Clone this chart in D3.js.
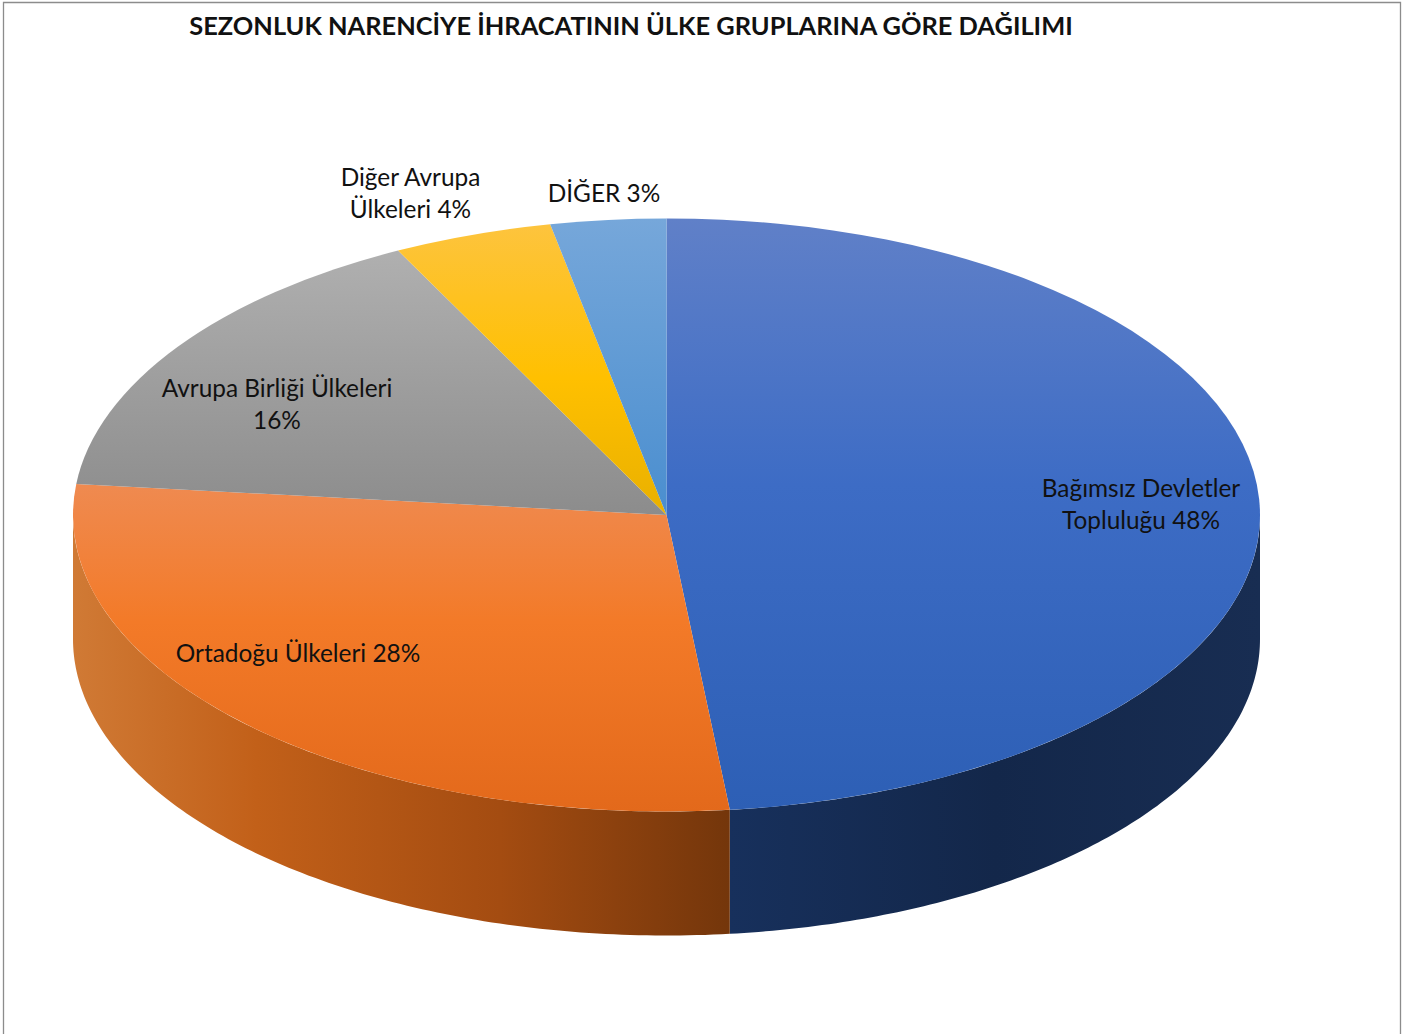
<!DOCTYPE html>
<html><head><meta charset="utf-8">
<script src="https://d3js.org/d3.v7.min.js"></script>
<style>html,body{margin:0;background:#fff}svg{display:block}text{font-family:Lato,"Open Sans",sans-serif;fill:#111}</style>
</head><body><div id="c"></div>
<script>
const titleText = "SEZONLUK NARENCİYE İHRACATININ ÜLKE GRUPLARINA GÖRE DAĞILIMI";
const categories = ["Bağımsız Devletler Topluluğu","Ortadoğu Ülkeleri","Avrupa Birliği Ülkeleri","Diğer Avrupa Ülkeleri","DİĞER"];
const shares = [48.3,28.37,15.86,4.33,3.14];
const shownPercent = [48,28,16,4,3];
const labelLines = [
  ["Bağımsız Devletler","Topluluğu 48%"],
  ["Ortadoğu Ülkeleri 28%"],
  ["Avrupa Birliği Ülkeleri","16%"],
  ["Diğer Avrupa","Ülkeleri 4%"],
  ["DİĞER 3%"]
];
// layout (not data)
const W=1414,H=1034,cx=666.5,cy=515,rx=593.5,ry=296.5,depth=124;
const labelAnchor=[[1141,497],[298,662],[277,397],[410.5,186],[604,202]];
const lineGap=32;
const topStops=[
 [[0,"#6080c8"],[0.45,"#3d6cc5"],[1,"#2d5fb5"]],
 [[0,"#f4a070"],[0.45,"#ef8a50"],[0.68,"#f37a28"],[1,"#e3691b"]],
 [[0,"#b4b4b4"],[0.5,"#8c8c8c"],[1,"#808080"]],
 [[0,"#fdc440"],[0.27,"#ffc000"],[0.5,"#e9b000"],[1,"#e0a800"]],
 [[0,"#76a7da"],[0.5,"#4a8ecf"],[1,"#4080c0"]]
];
const sideStops=[
 [[0,"#17305c"],[0.5,"#13274a"],[1,"#182d52"]],
 [[0,"#d07a35"],[0.28,"#c26019"],[0.65,"#a44c11"],[1,"#74360b"]]
];
const svg=d3.select("#c").append("svg").attr("width",W).attr("height",H);
const defs=svg.append("defs");
svg.append("rect").attr("width",W).attr("height",H).attr("fill","#fff");
svg.append("path").attr("d","M3.5,1034V2.5H1400.5V1034").attr("fill","none").attr("stroke","#8c8c8c").attr("stroke-width",1.3);

const pie=d3.pie().sort(null).value(d=>d.share);
const rows=categories.map((c,i)=>({category:c,share:shares[i],shown:shownPercent[i],i}));
const arcs=pie(rows);
const arcGen=d3.arc().innerRadius(0).outerRadius(rx);
const yScale=d3.scaleLinear().domain([-rx,rx]).range([cy-ry,cy+ry]);
const xScale=d3.scaleLinear().domain([-rx,rx]).range([cx-rx,cx+rx]);

function grad(id,stops,x1,y1,x2,y2){
  const g=defs.append("linearGradient").attr("id",id).attr("gradientUnits","userSpaceOnUse")
   .attr("x1",x1).attr("y1",y1).attr("x2",x2).attr("y2",y2);
  stops.forEach(s=>g.append("stop").attr("offset",s[0]).attr("stop-color",s[1]));
}
// sides
const pt=(a,dy)=>[xScale(rx*Math.sin(a)),yScale(-rx*Math.cos(a))+dy];
arcs.forEach(a=>{
  const s=Math.max(a.startAngle,Math.PI/2),e=Math.min(a.endAngle,3*Math.PI/2);
  if(e<=s) return;
  const n=120,as=d3.range(n+1).map(k=>s+(e-s)*k/n);
  const poly=as.map(t=>pt(t,0)).concat(as.slice().reverse().map(t=>pt(t,depth)));
  const id="side"+a.data.i,p0=pt(s,0)[0],p1=pt(e,0)[0];
  grad(id,sideStops[a.data.i],Math.min(p0,p1),0,Math.max(p0,p1),0);
  svg.append("path").attr("d",d3.line()(poly)+"Z").attr("fill",`url(#${id})`);
});
// top
const topG=svg.append("g").attr("transform",`translate(${cx},${cy}) scale(1,${ry/rx})`);
arcs.forEach(a=>{
  const id="top"+a.data.i;
  grad(id,topStops[a.data.i],0,-rx,0,rx);
  topG.append("path").attr("d",arcGen(a)).attr("fill",`url(#${id})`);
});
// labels
arcs.forEach(a=>{
  const i=a.data.i,t=svg.append("text").attr("text-anchor","middle").attr("font-size",24.4)
    .attr("x",labelAnchor[i][0]).attr("y",labelAnchor[i][1]);
  labelLines[i].forEach((l,k)=>t.append("tspan").attr("x",labelAnchor[i][0]).attr("dy",k?lineGap:0).text(l));
});
svg.append("text").attr("x",631).attr("y",35).attr("text-anchor","middle").attr("font-size",25.4).attr("font-weight",700).attr("fill","#000").text(titleText);
</script></body></html>
